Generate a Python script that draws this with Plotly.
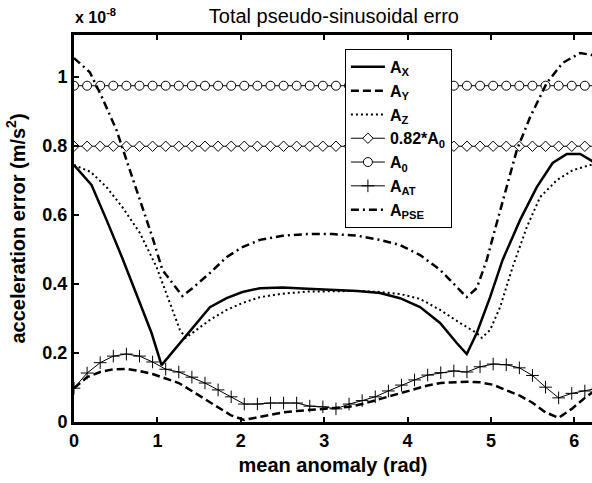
import numpy as np
import plotly.graph_objects as go

# mean anomaly samples (rad) for marker series
theta = np.linspace(0, 2 * np.pi, 41)

a0_level = 0.975
a0 = [a0_level] * 41
a082 = [0.82 * v for v in a0]

a_at = [0.098, 0.142, 0.172, 0.191, 0.197, 0.191, 0.174, 0.153, 0.145, 0.130,
        0.113, 0.093, 0.073, 0.052, 0.052, 0.055, 0.055, 0.055, 0.046, 0.044,
        0.038, 0.052, 0.062, 0.073, 0.090, 0.107, 0.122, 0.136, 0.143, 0.148,
        0.145, 0.160, 0.168, 0.166, 0.157, 0.135, 0.101, 0.070, 0.083, 0.090, 0.098]

a_y = [0.098, 0.130, 0.145, 0.153, 0.154, 0.148, 0.139, 0.127, 0.113, 0.090,
       0.066, 0.042, 0.019, 0.006, 0.014, 0.022, 0.028, 0.032, 0.035, 0.037,
       0.040, 0.044, 0.052, 0.063, 0.075, 0.086, 0.095, 0.106, 0.113, 0.116,
       0.117, 0.115, 0.108, 0.092, 0.077, 0.056, 0.028, 0.012, 0.038, 0.070, 0.098]

ax_x = [0, 0.21, 0.39, 0.58, 0.79, 0.93, 1.05, 1.18, 1.39, 1.63, 1.83, 2.02, 2.23,
        2.5, 2.8, 3.1, 3.4, 3.67, 3.91, 4.15, 4.39, 4.59, 4.71, 4.83, 4.99, 5.14,
        5.35, 5.55, 5.74, 5.91, 6.07, 6.19, 6.283]
ax_y = [0.745, 0.687, 0.586, 0.475, 0.345, 0.258, 0.165, 0.203, 0.266, 0.333,
        0.359, 0.377, 0.388, 0.390, 0.386, 0.383, 0.380, 0.374, 0.359, 0.333,
        0.287, 0.229, 0.197, 0.258, 0.362, 0.470, 0.586, 0.681, 0.751, 0.777,
        0.777, 0.760, 0.745]

az_x = [0, 0.20, 0.39, 0.58, 0.79, 0.99, 1.15, 1.27, 1.34, 1.42, 1.63, 1.83, 2.02,
        2.23, 2.5, 2.8, 3.1, 3.4, 3.67, 3.91, 4.15, 4.39, 4.63, 4.83, 4.89, 4.99,
        5.11, 5.26, 5.43, 5.59, 5.79, 5.98, 6.19, 6.283]
az_y = [0.745, 0.725, 0.681, 0.623, 0.548, 0.449, 0.345, 0.267, 0.244, 0.258,
        0.296, 0.325, 0.345, 0.362, 0.372, 0.378, 0.380, 0.380, 0.377, 0.371,
        0.357, 0.325, 0.287, 0.258, 0.244, 0.267, 0.333, 0.449, 0.565, 0.652,
        0.701, 0.730, 0.745, 0.745]

ap_x = [0, 0.19, 0.34, 0.51, 0.63, 0.79, 0.94, 1.06, 1.18, 1.30, 1.42, 1.63, 1.83,
        2.02, 2.23, 2.5, 2.8, 3.1, 3.4, 3.67, 3.91, 4.15, 4.39, 4.59, 4.71, 4.83,
        4.95, 5.07, 5.19, 5.31, 5.47, 5.67, 5.86, 6.07, 6.21, 6.283]
ap_y = [1.055, 1.014, 0.939, 0.846, 0.759, 0.643, 0.536, 0.441, 0.403, 0.365,
        0.388, 0.432, 0.478, 0.507, 0.528, 0.540, 0.545, 0.545, 0.540, 0.528,
        0.513, 0.484, 0.441, 0.391, 0.362, 0.388, 0.470, 0.577, 0.681, 0.788,
        0.884, 0.983, 1.041, 1.070, 1.064, 1.055]

x_ticks = [0, 1, 2, 3, 4, 5, 6]
y_ticks = [0, 0.2, 0.4, 0.6, 0.8, 1.0]
y_tick_labels = ["0", "0.2", "0.4", "0.6", "0.8", "1"]

fig = go.Figure()
fig.add_trace(go.Scatter(x=ax_x, y=ax_y, mode="lines", name="A<sub>X</sub>",
                         line=dict(color="black", width=2.5)))
fig.add_trace(go.Scatter(x=theta, y=a_y, mode="lines", name="A<sub>Y</sub>",
                         line=dict(color="black", width=2.5, dash="8px,4px")))
fig.add_trace(go.Scatter(x=az_x, y=az_y, mode="lines", name="A<sub>Z</sub>",
                         line=dict(color="black", width=2, dash="2px,3px")))
fig.add_trace(go.Scatter(x=theta, y=a082, mode="lines+markers", name="0.82*A<sub>0</sub>",
                         line=dict(color="black", width=1),
                         marker=dict(symbol="diamond", size=8, color="white",
                                     line=dict(color="black", width=1))))
fig.add_trace(go.Scatter(x=theta, y=a0, mode="lines+markers", name="A<sub>0</sub>",
                         line=dict(color="black", width=1),
                         marker=dict(symbol="circle", size=9, color="white",
                                     line=dict(color="black", width=1))))
fig.add_trace(go.Scatter(x=theta, y=a_at, mode="lines+markers", name="A<sub>AT</sub>",
                         line=dict(color="black", width=1),
                         marker=dict(symbol="cross-thin", size=9, color="black",
                                     line=dict(color="black", width=1))))
fig.add_trace(go.Scatter(x=ap_x, y=ap_y, mode="lines", name="A<sub>PSE</sub>",
                         line=dict(color="black", width=2.5, dash="8px,4px,2px,4px")))

fig.update_layout(
    width=592, height=483,
    margin=dict(l=74, r=0, t=35, b=61, autoexpand=False),
    paper_bgcolor="white", plot_bgcolor="white",
    font=dict(family="Liberation Sans, Arial, sans-serif", color="black"),
    title=dict(text="Total pseudo-sinusoidal erro", x=0.564, xanchor="center",
               y=1 - 16 / 483, yanchor="middle", font=dict(size=20)),
    showlegend=True,
    legend=dict(x=0.523, y=0.964, xanchor="left", yanchor="top",
                bgcolor="white", bordercolor="black", borderwidth=1,
                font=dict(size=16, weight="bold"), tracegroupgap=0,
                itemwidth=34),
    xaxis=dict(range=[0, 6.212], tickvals=x_ticks, showgrid=False, zeroline=False,
               automargin=False,
               showline=True, linecolor="black", linewidth=3, mirror="ticks",
               ticks="inside", ticklen=5, tickwidth=2, tickcolor="black",
               tickfont=dict(size=18, weight="bold"),
               title=dict(text="mean anomaly (rad)", font=dict(size=20, weight="bold"),
                          standoff=9)),
    yaxis=dict(range=[0, 1.122], tickvals=y_ticks, ticktext=y_tick_labels,
               showgrid=False, zeroline=False, automargin=False,
               showline=True, linecolor="black", linewidth=3, mirror=False,
               ticks="inside", ticklen=5, tickwidth=2, tickcolor="black",
               tickfont=dict(size=18, weight="bold"),
               title=dict(text="acceleration error (m/s<sup>2</sup>)",
                          font=dict(size=20, weight="bold"), standoff=12)),
)

fig.add_annotation(text="x 10<sup>-8</sup>", xref="paper", yref="paper",
                   x=-0.002, y=1 + 19 / 387, xanchor="left", yanchor="middle",
                   showarrow=False, font=dict(size=16, weight="bold"))

fig.write_html("out.html", config={"displayModeBar": False},
               post_script="document.body.style.margin='0';document.body.style.overflow='hidden';")
